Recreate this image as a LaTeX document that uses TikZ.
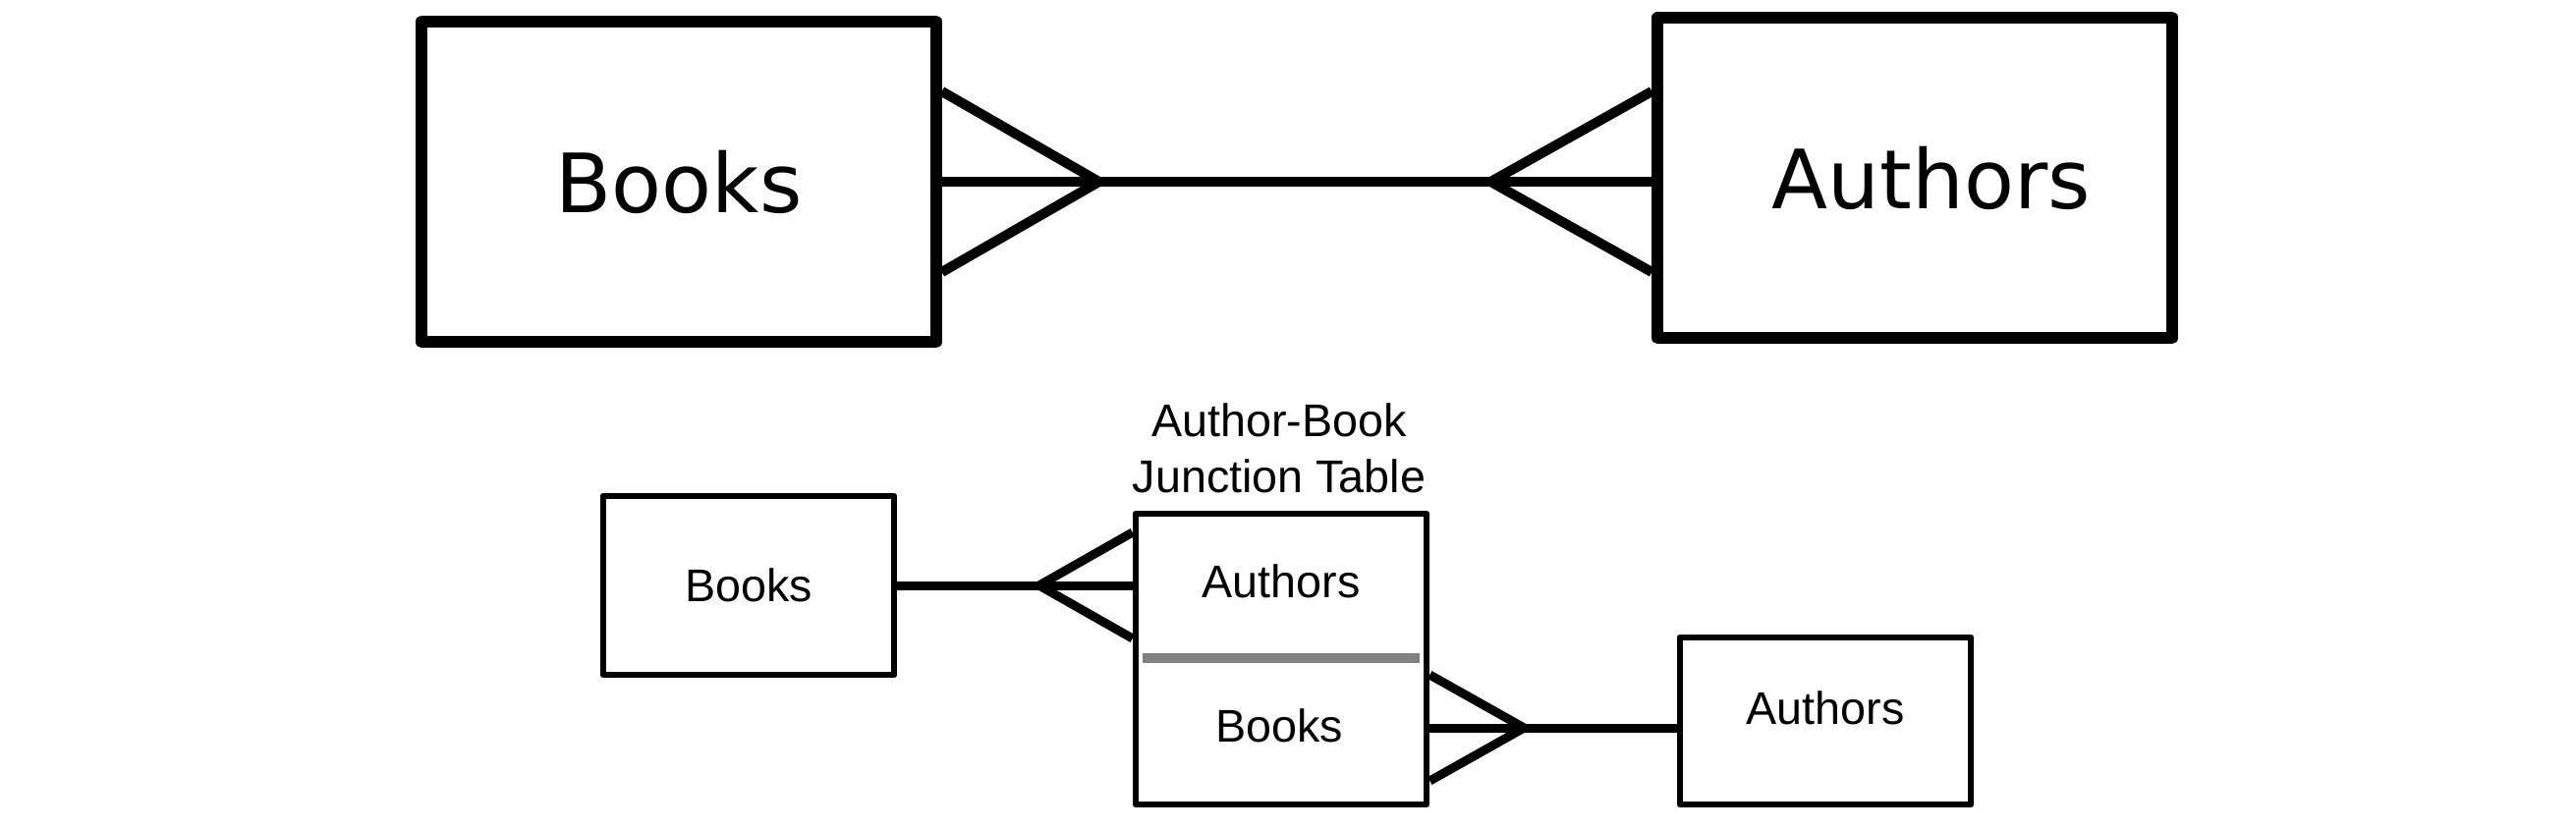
\documentclass[tikz,border=0pt]{standalone}
\usepackage{fontspec}
\setmainfont{Liberation Sans}
\newfontfamily\dejavu{DejaVu Sans}
\usetikzlibrary{positioning,calc}

\begin{document}
\begin{tikzpicture}[x=0.3pt, y=-0.3pt, line join=round,
    bigbox/.style={draw, line width=3.6pt, minimum width=157pt,
        minimum height=98pt, inner sep=0pt,
        font=\dejavu\fontsize{25}{30}\selectfont},
    smallbox/.style={draw, line width=2pt, minimum width=88.8pt,
        inner sep=0pt, font=\fontsize{14}{17}\selectfont},
    bigfoot/.style={line width=3pt},
    smallfoot/.style={line width=2.7pt}]
    \useasboundingbox (0,0) rectangle (2622,844);
    % top: books and authors, many to many
    \node[bigbox] (books) at (691,185) {Books};
    \node[bigbox] (authors) at (1949,181) {\hspace{10pt}Authors};
    \coordinate (bt) at ($(books.east)+(160,0)$);
    \coordinate (at) at ($(authors.west |- books.east)+(-164,0)$);
    \draw[bigfoot] (books.east) -- (bt) -- (at) -- (authors.west |- at);
    \draw[bigfoot] ($(books.east)+(0,-92)$) -- (bt) -- ($(books.east)+(0,92)$);
    \draw[bigfoot] ($(authors.west |- at)+(0,-92)$) -- (at)
        -- ($(authors.west |- at)+(0,92)$);
    % bottom: the junction table
    \node[smallbox, minimum height=54.6pt] (bks) at (762,596) {Books};
    \node[smallbox, minimum height=88.8pt] (jn) at (1304,671) {};
    \node[font=\fontsize{14}{17}\selectfont] (jna) at (1304,592) {Authors};
    \node[font=\fontsize{14}{17}\selectfont] (jnb) at (1302,739) {Books};
    \draw[line width=3pt, color={rgb,255:red,128;green,128;blue,128}]
        ($(jn.west)+(10,-1)$) -- ($(jn.east)+(-10,-1)$);
    \node[align=center, font=\fontsize{14}{17}\selectfont] (title)
        at (1302,456) {Author-Book\\Junction Table};
    \node[smallbox, minimum height=51pt] (auth) at (1858,734)
        {\raisebox{8pt}{Authors}};
    \coordinate (lt) at ($(jn.west |- bks.east)+(-95,0)$);
    \draw[smallfoot] (bks.east) -- (lt) -- (jn.west |- lt);
    \draw[smallfoot] ($(jn.west |- lt)+(0,-54)$) -- (lt)
        -- ($(jn.west |- lt)+(0,54)$);
    \coordinate (rt) at ($(jn.east |- jnb)+(96,2)$);
    \draw[smallfoot] (jn.east |- rt) -- (rt) -- (auth.west |- rt);
    \draw[smallfoot] ($(jn.east |- rt)+(0,-54)$) -- (rt)
        -- ($(jn.east |- rt)+(0,54)$);
\end{tikzpicture}
\end{document}
